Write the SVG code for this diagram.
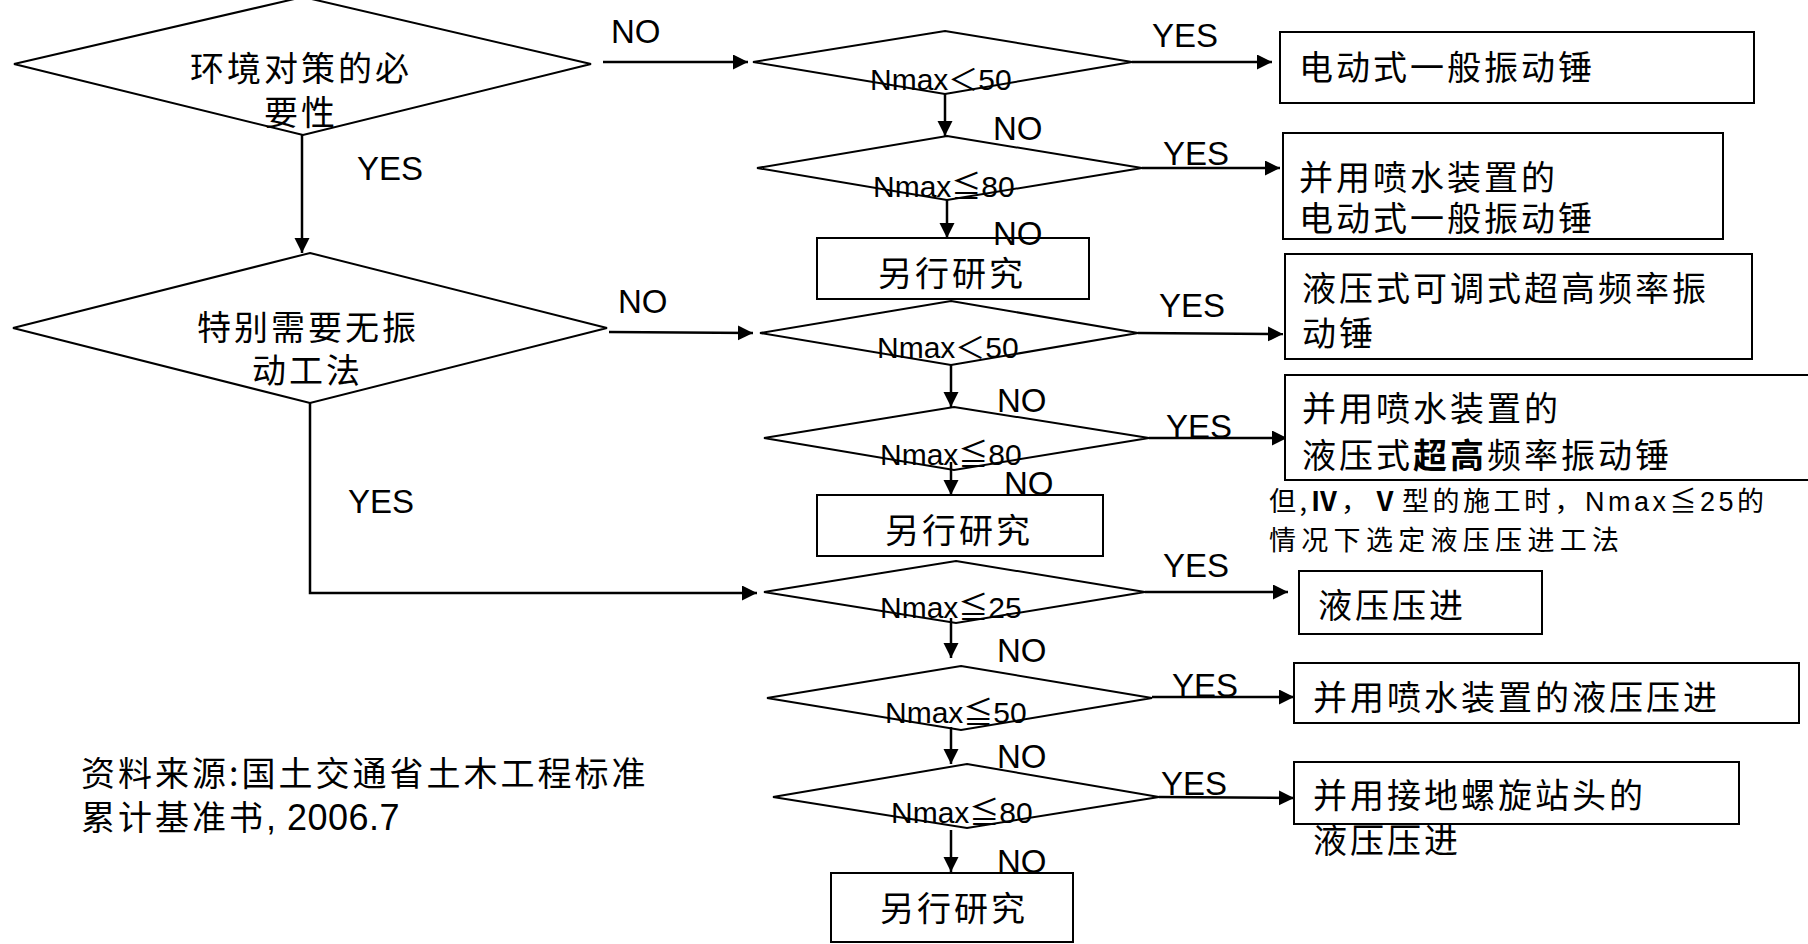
<svg xmlns="http://www.w3.org/2000/svg" width="1808" height="944" viewBox="0 0 1808 944">
<style>
.shape{fill:none;stroke:#000;stroke-width:2}
.box{fill:#fff;stroke:#000;stroke-width:2}
.conn{fill:none;stroke:#000;stroke-width:2.5}
.cjk{font-family:"Noto Sans CJK SC","Liberation Sans",sans-serif;font-size:34px;letter-spacing:3px;fill:#000}
.lbl{font-family:"Liberation Sans",Arial,sans-serif;font-size:33px;fill:#000}
.cond{font-family:"Liberation Sans","Noto Sans CJK SC",sans-serif;font-size:30px;fill:#000}
.note{font-family:"Noto Sans CJK SC","Liberation Sans",sans-serif;font-size:27px;fill:#000}
</style>
<defs>
<marker id="arr" markerUnits="userSpaceOnUse" markerWidth="16" markerHeight="16" refX="15" refY="7.5" orient="auto">
<path d="M0,0 L15,7.5 L0,15 z" fill="#000"/>
</marker>
</defs>
<rect width="1808" height="944" fill="#fff"/>
<g id="connectors">
<line class="conn" x1="603" y1="62" x2="748" y2="62" marker-end="url(#arr)"/>
<line class="conn" x1="1132" y1="62" x2="1272" y2="62" marker-end="url(#arr)"/>
<line class="conn" x1="945" y1="94" x2="945" y2="136" marker-end="url(#arr)"/>
<line class="conn" x1="1142" y1="168" x2="1280" y2="168" marker-end="url(#arr)"/>
<line class="conn" x1="947" y1="200" x2="947" y2="238" marker-end="url(#arr)"/>
<line class="conn" x1="302" y1="135" x2="302" y2="253" marker-end="url(#arr)"/>
<line class="conn" x1="609" y1="332" x2="753" y2="333" marker-end="url(#arr)"/>
<line class="conn" x1="1138" y1="333" x2="1283" y2="334" marker-end="url(#arr)"/>
<line class="conn" x1="951" y1="365" x2="951" y2="407" marker-end="url(#arr)"/>
<line class="conn" x1="1149" y1="438" x2="1287" y2="438" marker-end="url(#arr)"/>
<line class="conn" x1="951" y1="462" x2="951" y2="495" marker-end="url(#arr)"/>
<polyline class="conn" points="310,403 310,593 757,593" marker-end="url(#arr)"/>
<line class="conn" x1="1145" y1="592" x2="1288" y2="592" marker-end="url(#arr)"/>
<line class="conn" x1="951" y1="618" x2="951" y2="658" marker-end="url(#arr)"/>
<line class="conn" x1="1152" y1="697" x2="1294" y2="697" marker-end="url(#arr)"/>
<line class="conn" x1="951" y1="727" x2="951" y2="764" marker-end="url(#arr)"/>
<line class="conn" x1="1159" y1="797" x2="1294" y2="798" marker-end="url(#arr)"/>
<line class="conn" x1="951" y1="830" x2="951" y2="872" marker-end="url(#arr)"/>
</g>
<g id="d1"><polygon class="shape" points="303,-3 591,64 303,135 14,64"/>
<text class="cjk" x="190" y="81">环境对策的必</text><text class="cjk" x="264" y="125">要性</text></g>
<g id="d2"><polygon class="shape" points="310,253 607,328 310,403 13,328"/>
<text class="cjk" x="197" y="340">特别需要无振</text><text class="cjk" x="252" y="383">动工法</text></g>
<g id="d3"><polygon class="shape" points="945,31 1132,62 945,94 753,62"/><text class="cond" x="870" y="90">Nmax＜50</text></g>
<g id="d4"><polygon class="shape" points="947,136 1142,168 947,200 757,168"/><text class="cond" x="873" y="197">Nmax≦80</text></g>
<g id="d5"><polygon class="shape" points="951,301 1138,333 951,365 760,333"/><text class="cond" x="877" y="358">Nmax＜50</text></g>
<g id="d6"><polygon class="shape" points="954,407 1149,438 954,470 764,438"/><text class="cond" x="880" y="465">Nmax≦80</text></g>
<g id="d7"><polygon class="shape" points="956,561 1145,592 956,623 764,592"/><text class="cond" x="880" y="618">Nmax≦25</text></g>
<g id="d8"><polygon class="shape" points="961,666 1152,698 961,730 767,698"/><text class="cond" x="885" y="723">Nmax≦50</text></g>
<g id="d9"><polygon class="shape" points="967,764 1159,797 967,828 773,797"/><text class="cond" x="891" y="823">Nmax≦80</text></g>
<g id="box1"><rect class="box" x="1280" y="32" width="474" height="71"/><text class="cjk" x="1299" y="80">电动式一般振动锤</text></g>
<g id="box2"><rect class="box" x="1283" y="133" width="440" height="106"/><text class="cjk" x="1299" y="190">并用喷水装置的</text><text class="cjk" x="1299" y="231">电动式一般振动锤</text></g>
<g id="other1"><rect class="box" x="817" y="238" width="272" height="61"/><text class="cjk" x="878" y="286">另行研究</text></g>
<g id="box3"><rect class="box" x="1285" y="254" width="467" height="105"/><text class="cjk" x="1302" y="301">液压式可调式超高频率振</text><text class="cjk" x="1302" y="346">动锤</text></g>
<g id="box4"><rect class="box" x="1285" y="375" width="530" height="105"/><text class="cjk" x="1302" y="421">并用喷水装置的</text><text class="cjk" x="1302" y="468">液压式<tspan font-weight="bold">超高</tspan>频率振动锤</text></g>
<g id="note1"><text class="note" x="1269" y="511" textLength="495" lengthAdjust="spacing">但,<tspan font-weight="bold">Ⅳ</tspan>，<tspan font-weight="bold">Ⅴ</tspan>型的施工时，<tspan font-family="Liberation Sans">Nmax</tspan>≦<tspan font-family="Liberation Sans">25</tspan>的</text>
<text class="note" x="1269" y="550" textLength="350" lengthAdjust="spacing">情况下选定液压压进工法</text></g>
<g id="other2"><rect class="box" x="817" y="495" width="286" height="61"/><text class="cjk" x="885" y="543">另行研究</text></g>
<g id="box5"><rect class="box" x="1299" y="571" width="243" height="63"/><text class="cjk" x="1318" y="618">液压压进</text></g>
<g id="box6"><rect class="box" x="1294" y="663" width="505" height="60"/><text class="cjk" x="1313" y="710">并用喷水装置的液压压进</text></g>
<g id="box7"><rect class="box" x="1294" y="762" width="445" height="62"/><text class="cjk" x="1313" y="808">并用接地螺旋站头的</text><text class="cjk" x="1313" y="853">液压压进</text></g>
<g id="other3"><rect class="box" x="831" y="873" width="242" height="69"/><text class="cjk" x="880" y="921">另行研究</text></g>
<g id="labels">
<text class="lbl" x="611" y="43">NO</text>
<text class="lbl" x="1152" y="47">YES</text>
<text class="lbl" x="993" y="140">NO</text>
<text class="lbl" x="1163" y="165">YES</text>
<text class="lbl" x="993" y="245">NO</text>
<text class="lbl" x="357" y="180">YES</text>
<text class="lbl" x="618" y="313">NO</text>
<text class="lbl" x="1159" y="317">YES</text>
<text class="lbl" x="997" y="412">NO</text>
<text class="lbl" x="1166" y="438">YES</text>
<text class="lbl" x="1004" y="495">NO</text>
<text class="lbl" x="348" y="513">YES</text>
<text class="lbl" x="1163" y="577">YES</text>
<text class="lbl" x="997" y="662">NO</text>
<text class="lbl" x="1172" y="697">YES</text>
<text class="lbl" x="997" y="768">NO</text>
<text class="lbl" x="1161" y="795">YES</text>
<text class="lbl" x="997" y="873">NO</text>
</g>
<g id="source">
<text class="cjk" x="81" y="786">资料来源:国土交通省土木工程标准</text>
<text class="cjk" x="81" y="830">累计基准书<tspan font-family="Liberation Sans" font-size="36" letter-spacing="0.5">, 2006.7</tspan></text>
</g>
</svg>
